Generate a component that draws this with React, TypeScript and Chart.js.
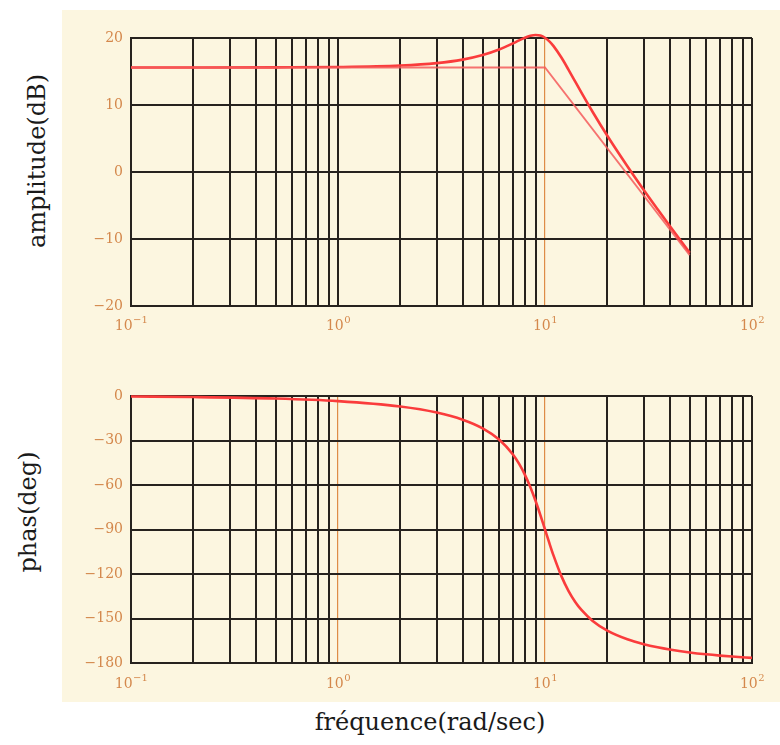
import React, { useEffect, useRef } from "react";
import { Chart, registerables } from "chart.js";

Chart.register(...registerables);

// ---- data ----
const FREQ_AMP = [0.1, 0.2, 0.5, 1, 2, 3, 4, 5, 6, 7, 7.5, 8, 8.5, 9, 9.5, 10, 10.5, 11, 12, 13, 14, 15, 17, 20, 25, 30, 35, 40, 45, 50];
const AMP_DB = [15.6, 15.6, 15.62, 15.67, 15.89, 16.25, 16.77, 17.45, 18.28, 19.2, 19.65, 20.04, 20.32, 20.45, 20.36, 20.04, 19.5, 18.79, 17.08, 15.25, 13.49, 11.85, 8.96, 5.41, 0.86, -2.68, -5.57, -8.03, -10.17, -12.07];

const FREQ_ASYM = [0.1, 10, 50];
const ASYM_DB = [15.6, 15.6, -12.4];

const FREQ_PHASE = [0.1, 0.2, 0.5, 1, 2, 3, 4, 5, 6, 7, 7.5, 8, 8.5, 9, 9.5, 10, 10.5, 11, 12, 13, 14, 15, 17, 20, 25, 30, 35, 40, 50, 60, 70, 80, 100];
const PHASE_DEG = [-0.34, -0.69, -1.72, -3.47, -7.13, -11.19, -15.95, -21.8, -29.36, -39.47, -45.81, -53.13, -61.46, -70.62, -80.29, -90, -99.24, -107.65, -121.43, -131.49, -138.81, -144.25, -151.64, -158.2, -164.05, -167.32, -169.43, -170.91, -172.87, -174.13, -175.0, -175.64, -176.53];

const X_GRID = [0.1, 0.2, 0.3, 0.4, 0.5, 0.6, 0.7, 0.8, 0.9, 1, 2, 3, 4, 5, 6, 7, 8, 9, 10, 20, 30, 40, 50, 60, 70, 80, 90, 100];
const X_LABEL_VALUES = [0.1, 1, 10, 100];
const X_LABEL_BASE = "10";
const X_LABEL_EXP = ["\u22121", "0", "1", "2"];

const AMP_TICKS = [-20, -10, 0, 10, 20];
const PHASE_TICKS = [-180, -150, -120, -90, -60, -30, 0];

const AMP_ORANGE_DECADES = [10];
const PHASE_ORANGE_DECADES = [1, 10];

// ---- styles ----
const CREAM = "rgb(252,246,224)";
const TICK_COLOR = "rgb(212,136,76)";
const GRID_BLACK = "#26221e";
const GRID_ORANGE = "rgb(222,140,70)";
const CURVE = "rgb(250,60,60)";
const ASYM = "rgba(245,90,90,0.85)";
const SERIF = "'DejaVu Serif', serif";

const same = (a: number, b: number) => Math.abs(a - b) < 1e-9;

// draws the decade labels as 10 with a raised exponent
const decadeLabels = {
  id: "decadeLabels",
  afterDraw(chart: any, _args: any, opts: any) {
    const xs = chart.scales.x;
    const ctx = chart.ctx;
    const yBase = chart.chartArea.bottom + (opts.offset || 26);
    ctx.save();
    ctx.fillStyle = TICK_COLOR;
    ctx.textBaseline = "alphabetic";
    ctx.textAlign = "left";
    X_LABEL_VALUES.forEach((v, i) => {
      const px = xs.getPixelForValue(v);
      ctx.font = `14px ${SERIF}`;
      const w1 = ctx.measureText(X_LABEL_BASE).width;
      ctx.font = `10px ${SERIF}`;
      const w2 = ctx.measureText(X_LABEL_EXP[i]).width;
      const start = px - (w1 + w2) / 2;
      ctx.font = `14px ${SERIF}`;
      ctx.fillText(X_LABEL_BASE, start, yBase);
      ctx.font = `10px ${SERIF}`;
      ctx.fillText(X_LABEL_EXP[i], start + w1 + 0.5, yBase - 7);
    });
    ctx.restore();
  },
};

function makeOptions(
  yMin: number,
  yMax: number,
  yTicks: number[],
  orange: number[],
  padTop: number,
  xHeight: number,
  labelOffset: number
): any {
  return {
    responsive: false,
    animation: false,
    events: [],
    layout: { padding: { top: padTop, left: 0, right: 28, bottom: 0 } },
    plugins: {
      legend: { display: false },
      tooltip: { enabled: false },
      decadeLabels: { offset: labelOffset },
    },
    elements: { point: { radius: 0 } },
    scales: {
      x: {
        type: "logarithmic",
        min: 0.1,
        max: 100,
        afterBuildTicks: (s: any) => {
          s.ticks = X_GRID.map((v) => ({ value: v }));
        },
        afterFit: (s: any) => {
          s.height = xHeight;
        },
        ticks: {
          autoSkip: false,
          maxRotation: 0,
          padding: 8,
          font: { family: SERIF, size: 13 },
          callback: () => "",
        },
        grid: {
          drawTicks: false,
          color: (c: any) =>
            c.tick && orange.some((d) => same(d, c.tick.value)) ? GRID_ORANGE : GRID_BLACK,
          lineWidth: (c: any) =>
            c.tick && orange.some((d) => same(d, c.tick.value)) ? 1.2 : 2,
        },
        border: { display: true, color: GRID_BLACK, width: 2 },
      },
      y: {
        type: "linear",
        min: yMin,
        max: yMax,
        afterBuildTicks: (s: any) => {
          s.ticks = yTicks.map((v) => ({ value: v }));
        },
        afterFit: (s: any) => {
          s.width = 69;
        },
        ticks: {
          padding: 8,
          color: TICK_COLOR,
          font: { family: SERIF, size: 14 },
          callback: (v: any) => String(v).replace("-", "\u2212"),
        },
        grid: { drawTicks: false, color: GRID_BLACK, lineWidth: 2 },
        border: { display: true, color: GRID_BLACK, width: 2 },
      },
    },
  };
}

function useChart(ref: React.RefObject<HTMLCanvasElement | null>, build: () => any) {
  useEffect(() => {
    if (!ref.current) return;
    const chart = new Chart(ref.current, build());
    return () => chart.destroy();
  }, []);
}

export default function App() {
  const ampRef = useRef<HTMLCanvasElement>(null);
  const phRef = useRef<HTMLCanvasElement>(null);

  useChart(ampRef, () => ({
    type: "line",
    data: {
      datasets: [
        {
          data: FREQ_ASYM.map((f, i) => ({ x: f, y: ASYM_DB[i] })),
          borderColor: ASYM,
          borderWidth: 1.8,
          tension: 0,
        },
        {
          data: FREQ_AMP.map((f, i) => ({ x: f, y: AMP_DB[i] })),
          borderColor: CURVE,
          borderWidth: 2.6,
          cubicInterpolationMode: "monotone",
          clip: 6,
        },
      ],
    },
    options: makeOptions(-20, 20, AMP_TICKS, AMP_ORANGE_DECADES, 28, 44, 24),
    plugins: [decadeLabels],
  }));

  useChart(phRef, () => ({
    type: "line",
    data: {
      datasets: [
        {
          data: FREQ_PHASE.map((f, i) => ({ x: f, y: PHASE_DEG[i] })),
          borderColor: CURVE,
          borderWidth: 2.6,
          cubicInterpolationMode: "monotone",
          clip: 6,
        },
      ],
    },
    options: makeOptions(-180, 0, PHASE_TICKS, PHASE_ORANGE_DECADES, 36, 39, 25),
    plugins: [decadeLabels],
  }));

  const title: React.CSSProperties = {
    position: "absolute",
    fontFamily: SERIF,
    fontSize: 24,
    lineHeight: 1,
    whiteSpace: "nowrap",
    color: "#1a1a1a",
  };

  return (
    <div style={{ position: "absolute", left: 0, top: 0, width: 780, height: 745, background: "#fff", overflow: "hidden" }}>
      <div style={{ position: "absolute", left: 62, top: 10, width: 718, height: 692, background: CREAM }} />
      <canvas ref={ampRef} width={718} height={340} style={{ position: "absolute", left: 62, top: 10 }} />
      <canvas ref={phRef} width={718} height={342} style={{ position: "absolute", left: 62, top: 360 }} />
      <div style={{ ...title, left: 37, top: 161, transform: "translate(-50%,-50%) rotate(-90deg)" }}>amplitude(dB)</div>
      <div style={{ ...title, left: 28, top: 512, transform: "translate(-50%,-50%) rotate(-90deg)" }}>phas(deg)</div>
      <div style={{ ...title, left: 430, top: 722, transform: "translate(-50%,-50%)" }}>fréquence(rad/sec)</div>
    </div>
  );
}
